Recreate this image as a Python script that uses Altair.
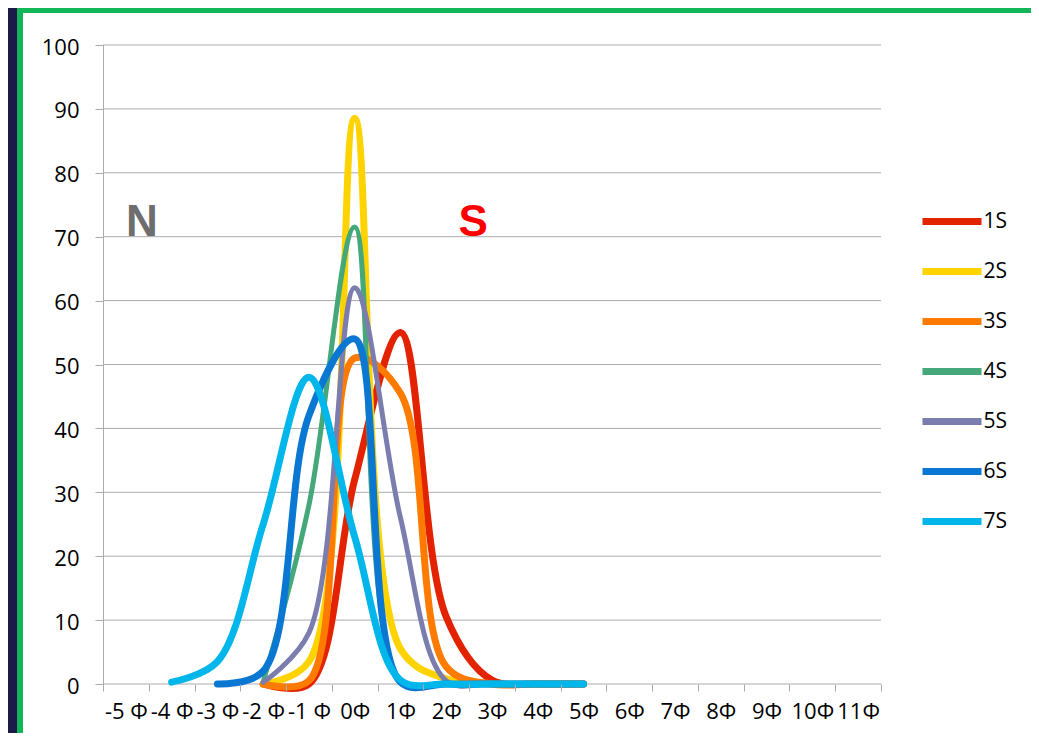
import altair as alt
import pandas as pd

# ---- data ----
x_labels = ["-5 Φ", "-4 Φ", "-3 Φ", "-2 Φ", "-1 Φ", "0Φ", "1Φ", "2Φ", "3Φ",
            "4Φ", "5Φ", "6Φ", "7Φ", "8Φ", "9Φ", "10Φ", "11Φ"]
series_names = ["1S", "2S", "3S", "4S", "5S", "6S", "7S"]
series_colors = ["#E32300", "#FFD300", "#FF7B00", "#44A87A", "#7B7DAF", "#0A78D3", "#00B6EA"]

phi_1S = [-2, -1, 0, 1, 2, 3, 4, 5]
val_1S = [0, 0, 32, 55, 10.5, 0.6, 0, 0]
phi_2S = [-2, -1, 0, 1, 2, 3, 4, 5]
val_2S = [0, 3.5, 88.5, 5.5, 0.8, 0, 0, 0]
phi_3S = [-2, -1, 0, 1, 2, 3, 4, 5]
val_3S = [0, 0.5, 51, 45.5, 2.7, 0, 0, 0]
phi_4S = [-2, -1, 0, 1, 2, 3, 4, 5]
val_4S = [0.3, 28, 71.5, 0.5, 0, 0, 0, 0]
phi_5S = [-2, -1, 0, 1, 2, 3, 4, 5]
val_5S = [0.3, 8, 62, 26, 0.5, 0, 0, 0]
phi_6S = [-3, -2, -1, 0, 1, 2, 3, 4, 5]
val_6S = [0, 2, 42, 54, 0.3, 0, 0, 0, 0]
phi_7S = [-4, -3, -2, -1, 0, 1, 2, 3, 4, 5]
val_7S = [0.3, 3.5, 25, 48, 23, 0.6, 0, 0, 0, 0]

grid_values = [0, 10, 20, 30, 40, 50, 60, 70, 80, 90, 100]

annot_text = ["N", "S"]
annot_phi = [-4.65, 2.59]
annot_val = [72.2, 72.2]

# ---- tables ----
series_phi = [phi_1S, phi_2S, phi_3S, phi_4S, phi_5S, phi_6S, phi_7S]
series_val = [val_1S, val_2S, val_3S, val_4S, val_5S, val_6S, val_7S]
rows = []
for name, xs, ys in zip(series_names, series_phi, series_val):
    for i, (xv, yv) in enumerate(zip(xs, ys)):
        rows.append({"series": name, "phi": xv, "value": yv, "idx": i})
df = pd.DataFrame(rows)
grid_df = pd.DataFrame({"value": grid_values})
annot_df = pd.DataFrame({"label": annot_text, "phi": annot_phi, "value": annot_val})
panel_df = pd.DataFrame({"d": [0]})

FONT = "Open Sans"
GRAY = "#ABABAB"

label_array = "[" + ",".join("'" + s + "'" for s in x_labels) + "]"
x_ticks = [v - 0.5 for v in range(-5, 13)]

x_enc = alt.X(
    "phi:Q",
    scale=alt.Scale(domain=[-5.5, 11.5], nice=False, zero=False),
    axis=alt.Axis(
        values=x_ticks, title=None, grid=False, domain=False, zindex=1,
        tickSize=7, tickColor=GRAY, labelExpr=label_array + "[round(datum.value + 5.5)] || ''",
        labelOffset=22.9, labelPadding=10, labelFlush=False, labelOverlap=False,
        labelBound=False, labelFont=FONT, labelFontSize=22, labelColor="black",
    ),
)
y_enc = alt.Y(
    "value:Q",
    scale=alt.Scale(domain=[0, 100], nice=False),
    axis=alt.Axis(
        values=grid_values, title=None, grid=False, domain=True, zindex=1,
        domainColor=GRAY, tickColor=GRAY, tickSize=8, labelPadding=16, labelOffset=2,
        labelFont=FONT, labelFontSize=22, labelColor="black",
    ),
)

panel = alt.Chart(panel_df).mark_rect(
    fill="white", stroke="#12B558", strokeWidth=6
).encode(
    x=alt.value(-83), x2=alt.value(1000), y=alt.value(-35), y2=alt.value(720)
)

grid = alt.Chart(grid_df).mark_rule(color=GRAY, strokeWidth=1).encode(y=y_enc)

lines = alt.Chart(df).mark_line(
    interpolate="catmull-rom", strokeCap="round", strokeJoin="round"
).encode(
    x=x_enc,
    y=y_enc,
    order="idx:Q",
    color=alt.Color(
        "series:N",
        scale=alt.Scale(domain=series_names, range=series_colors),
        legend=alt.Legend(
            orient="none", legendX=819, legendY=163, title=None, padding=0,
            symbolType="M-3,0H3", symbolSize=387, symbolStrokeWidth=7,
            symbolOffset=16.5, labelOffset=18, labelFont=FONT, labelFontSize=21,
            labelColor="black", rowPadding=21,
        ),
    ),
    strokeWidth=alt.condition(
        alt.FieldOneOfPredicate(field="series", oneOf=["4S", "5S"]),
        alt.value(5), alt.value(7)
    ),
)

annots = alt.Chart(annot_df).mark_text(
    font="Liberation Sans", fontWeight="bold", fontSize=44, align="center", baseline="middle"
).encode(
    x=x_enc,
    y=y_enc,
    text="label:N",
    color=alt.condition(alt.datum.label == "N", alt.value("#6E6E6E"), alt.value("#FF0000")),
)

chart = alt.layer(panel, grid, lines, annots).properties(
    width=778,
    height=639,
    padding={"left": 95, "top": 37, "right": 150, "bottom": 49},
    autosize=alt.AutoSizeParams(type="none"),
    background="#1B1A48",
).configure_view(stroke=None)

chart.save("out.html", embed_options={"renderer": "svg", "actions": False})
